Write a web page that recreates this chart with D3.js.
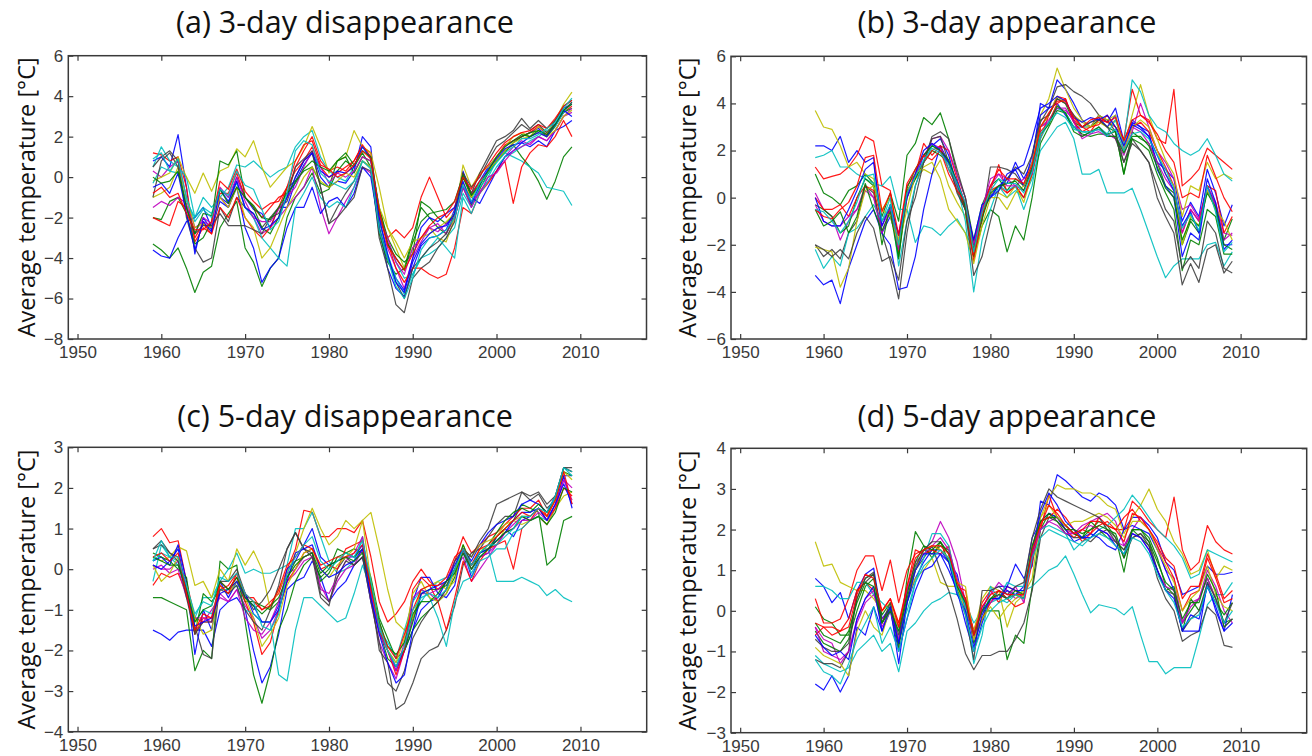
<!DOCTYPE html>
<html><head><meta charset="utf-8">
<script src="https://cdn.jsdelivr.net/npm/d3@7"></script>
<style>
body{margin:0;background:#fff;}
svg{display:block;}
.ttl{font-family:"Open Sans","Noto Sans",sans-serif;font-size:30.5px;fill:#111;}
.ylab{font-family:"Open Sans","Noto Sans",sans-serif;font-size:23.5px;fill:#111;}
</style></head><body>
<svg id="chart" width="1312" height="756"></svg>
<script>
const years = d3.range(1959, 2010);
const xTicks = [1950,1960,1970,1980,1990,2000,2010];
const yTicksA = [-8,-6,-4,-2,0,2,4,6];
const yTicksB = [-6,-4,-2,0,2,4,6];
const yTicksC = [-4,-3,-2,-1,0,1,2,3];
const yTicksD = [-3,-2,-1,0,1,2,3,4];
const titles = ["(a) 3-day disappearance","(b) 3-day appearance","(c) 5-day disappearance","(d) 5-day appearance"];
const yLabel = "Average temperature [°C]";
const lineColors = ["#0000ff","#008000","#ff0000","#00bfbf","#bf00bf","#bfbf00","#404040"];

const seriesA = [
[0.8,1.0,0.5,2.1,-0.5,-3.8,-2.0,-2.6,-1.0,-1.3, 0.0,-1.0,-1.6,-1.8,-2.5,-1.5,-1.5,-0.2,0.6,1.2, 0.0,-0.5,-0.2,-0.3,0.3,2.0,1.5,-2.5,-4.5,-5.5, -5.9,-4.5,-3.4,-3.0,-2.9,-2.6,-1.6,0.3,-0.9,-0.2, 0.5,1.0,1.5,1.8,2.0,2.2,2.4,2.0,2.8,3.4, 3.6],
[-3.3,-3.6,-4.0,-3.5,-4.5,-5.7,-4.7,-4.4,-2.5,-1.8, -1.2,-3.5,-4.2,-5.4,-4.5,-4.0,-2.0,-1.0,-0.5,0.2, -0.8,-0.6,0.3,0.8,0.5,1.2,0.5,-2.8,-4.2,-4.8, -4.5,-3.0,-1.5,-2.0,-2.5,-2.8,-2.0,-0.5,-1.4,-0.6, 0.2,0.8,1.3,1.6,1.0,0.5,-0.2,-1.1,-0.2,1.0, 1.5],
[1.2,1.1,0.8,1.0,-0.5,-3.2,-2.5,-2.8,-0.8,-0.8, 0.2,-1.0,-1.5,-2.0,-1.5,-1.0,-0.8,0.5,1.3,2.0, 0.8,0.3,0.5,0.3,0.8,1.5,1.2,-1.8,-3.0,-2.6, -3.0,-2.5,-1.0,0.0,-1.0,-2.0,-1.5,0.0,-0.8,-0.2, 0.3,1.0,1.6,1.8,2.0,2.2,2.5,2.1,2.6,3.2, 3.5],
[0.5,1.5,0.8,0.5,0.0,-2.0,-1.0,-1.5,-1.0,-0.5, 0.6,0.5,0.8,0.4,0.0,0.3,0.5,1.5,2.0,2.3, 1.0,0.3,0.0,-0.2,0.5,1.5,1.0,-1.5,-3.2,-4.2, -5.0,-4.8,-4.0,-3.8,-3.5,-3.0,-2.5,-0.8,-1.5,-0.5, 0.0,0.8,1.2,1.0,0.8,0.5,0.2,-0.5,-0.6,-0.7, -1.4],
[0.3,0.0,0.5,0.8,-1.0,-2.5,-2.2,-2.4,-1.0,-1.5, -0.2,-1.5,-2.0,-2.8,-2.5,-2.0,-1.5,-1.0,-0.5,0.5, -1.5,-2.8,-2.0,-1.2,-0.5,0.5,0.2,-2.2,-3.5,-4.5, -5.5,-4.0,-3.2,-2.5,-2.3,-2.8,-2.0,-0.5,-1.5,-0.7, -0.2,0.3,1.0,1.5,1.8,1.6,2.0,1.8,2.3,3.0, 3.2],
[-0.2,0.0,0.2,1.0,0.0,-0.8,0.2,-0.7,0.3,0.5, 1.4,1.0,1.8,0.5,-0.5,0.0,0.5,0.8,1.5,2.5, 1.5,0.2,0.8,1.0,2.3,1.5,1.2,-0.5,-2.5,-3.5, -4.5,-3.5,-3.0,-2.5,-3.0,-3.2,-2.0,0.6,-0.5,0.2, 0.5,1.0,1.5,2.0,2.2,2.0,2.5,2.2,2.8,3.6, 4.2],
[0.5,1.0,1.3,0.8,-2.0,-3.5,-4.2,-4.0,-1.5,-2.2, -1.0,-1.5,-1.8,-2.5,-2.0,-1.5,-1.2,0.0,0.8,1.2, -0.5,-2.3,-1.5,-0.8,-0.2,0.8,0.5,-3.0,-4.5,-6.3, -6.7,-5.0,-4.5,-4.2,-3.5,-3.0,-2.2,0.2,-0.8,0.2, 1.0,1.8,2.0,2.3,2.9,2.4,2.8,2.4,2.8,3.5, 3.8],
[-3.6,-3.9,-4.0,-3.0,-2.2,-2.0,-1.5,-2.5,-1.2,-1.5, -0.5,-2.5,-3.5,-5.2,-4.5,-4.0,-2.5,-1.5,-1.5,-0.5, -1.8,-1.2,-1.0,-1.5,-0.8,0.5,0.0,-2.5,-4.0,-5.0, -5.6,-4.0,-2.5,-2.0,-2.2,-1.8,-1.5,-0.5,-1.0,-1.3, -0.5,0.3,1.0,1.3,1.7,1.5,1.8,1.5,2.3,2.5, 2.8],
[-2.0,-2.1,-1.2,-1.0,-1.8,-3.3,-3.0,-2.2,0.8,0.6, 1.3,-1.0,-1.5,-2.5,-2.8,-2.0,-0.5,-0.2,0.3,0.5, -0.3,-0.5,0.8,1.0,0.2,1.0,0.8,-1.5,-3.0,-3.8, -4.2,-3.8,-1.2,-1.5,-2.0,-2.3,-1.8,0.0,-1.0,-0.3, 0.2,0.8,1.2,1.7,2.0,2.2,2.3,2.0,2.5,3.2, 3.4],
[-2.0,-2.2,-2.4,-1.2,-1.5,-3.0,-2.3,-2.8,-1.5,-2.0, -1.0,-2.0,-2.6,-3.0,-2.5,-1.5,-0.5,0.3,0.8,1.5, 0.5,0.0,0.2,0.5,0.8,1.6,1.0,-2.0,-3.2,-4.5, -5.2,-4.5,-4.5,-4.8,-5.0,-4.8,-3.5,-1.5,-1.8,-0.8, -0.3,0.3,0.8,-1.3,0.5,1.2,1.6,1.5,2.0,2.8, 2.0],
[-0.3,0.5,0.3,0.2,-1.2,-2.0,-1.5,-1.8,-0.6,-1.0, -0.3,-1.5,-2.0,-3.0,-3.5,-4.0,-4.4,-1.5,-0.8,0.0, -1.0,-1.5,-1.2,-1.5,-0.5,0.8,0.5,-2.2,-3.8,-5.0, -5.8,-4.8,-4.0,-3.5,-3.0,-3.5,-4.0,-1.0,-1.8,-0.8, -0.2,0.5,1.0,1.2,1.5,1.8,2.0,2.3,2.5,3.2, 3.7],
[-1.5,-1.2,-1.4,-1.0,-1.3,-2.8,-2.0,-2.3,-0.5,-1.0, 0.0,-1.2,-2.0,-2.2,-2.2,-1.6,-1.0,-0.5,0.5,1.3, 0.5,-0.3,0.2,0.0,0.3,1.0,0.8,-2.0,-3.0,-4.2, -4.8,-3.5,-3.0,-2.5,-2.7,-2.3,-2.0,-0.5,-1.2,-0.8, 0.0,0.2,0.8,1.3,1.5,1.7,2.0,1.8,2.3,3.0, 3.4],
[-1.0,-0.8,-0.5,0.5,-1.0,-2.5,-2.3,-2.5,-1.0,-1.5, -0.5,-2.0,-2.5,-4.0,-3.5,-2.5,-1.5,-0.8,0.0,0.5, -0.2,-0.5,-0.2,0.2,0.0,0.8,0.5,-1.5,-2.5,-3.2, -4.0,-3.2,-3.0,-2.8,-2.5,-2.2,-1.8,-0.3,-1.0,-0.3, 0.3,0.8,1.3,1.7,1.9,2.0,2.2,2.0,2.3,3.0, 3.3],
[-1.0,0.8,1.2,0.5,-1.5,-2.8,-2.4,-2.4,-1.8,-2.4, -2.4,-2.4,-2.6,-2.8,-2.0,-1.8,-1.0,0.5,0.9,1.3, -0.5,-2.3,-2.0,-1.5,-1.0,0.5,0.3,-2.5,-4.0,-5.2, -6.0,-4.5,-4.0,-3.5,-3.2,-2.8,-1.8,0.2,-0.5,0.0, 0.8,1.5,1.8,2.2,2.6,2.3,2.6,2.2,2.6,3.3, 3.7],
[-0.5,-0.3,-0.8,0.2,-1.8,-3.6,-2.2,-2.7,-0.6,-1.2, -0.2,-1.5,-1.8,-2.6,-2.4,-2.0,-1.0,0.0,0.8,1.2, 0.3,0.0,0.3,0.2,0.5,1.5,0.9,-2.0,-3.8,-5.2, -5.7,-4.2,-3.3,-2.8,-2.5,-2.4,-1.8,-0.2,-1.3,-0.4, 0.4,0.9,1.4,1.6,1.7,2.0,2.2,2.0,2.6,3.3, 3.0],
[0.0,-0.3,-0.2,0.3,-1.5,-2.8,-1.8,-1.9,-0.6,-1.3, -0.5,-1.0,-1.4,-2.0,-2.1,-1.5,-0.8,-0.3,0.4,0.8, 0.5,0.3,0.8,1.2,0.6,1.3,1.0,-1.7,-3.3,-4.0, -4.6,-3.2,-2.2,-1.8,-1.7,-1.6,-1.2,0.1,-0.9,-0.4, 0.3,1.0,1.5,1.8,2.1,2.0,2.3,2.1,2.6,3.3, 3.6],
[-0.8,-0.5,-1.0,-0.8,-1.8,-2.6,-2.6,-2.2,-0.2,-0.6, 0.4,-0.7,-1.2,-1.6,-1.3,-1.2,-0.5,0.8,1.6,1.8, 0.6,0.4,0.0,0.2,0.6,1.3,0.9,-1.6,-3.4,-4.0, -4.6,-3.8,-3.0,-2.4,-2.0,-1.8,-1.2,0.0,-0.6,0.1, 0.6,1.2,1.7,2.0,2.2,2.3,2.6,2.4,2.9,3.5, 3.8],
[0.9,1.2,0.3,0.9,-1.0,-2.2,-1.6,-2.0,-0.6,-0.9, 0.3,-0.4,-0.6,-1.6,-2.6,-2.2,-0.8,1.3,1.8,1.6, 0.2,-0.2,-0.4,-0.6,-0.2,0.8,0.4,-2.6,-4.0,-5.4, -6.0,-5.0,-3.6,-3.0,-2.9,-2.6,-2.0,-0.4,-1.2,-0.3, 0.2,0.7,1.2,1.5,1.9,1.9,2.1,2.4,2.7,3.4, 3.9]
];

const seriesB = [
[2.2,2.2,2.0,2.6,1.5,2.0,1.5,1.7,-1.5,-0.8, -2.0,0.3,0.8,1.8,2.2,2.5,1.8,0.5,-0.5,-2.5, -0.5,0.1,0.5,0.6,1.5,0.8,1.5,4.0,3.8,5.0, 4.6,4.0,3.3,3.0,3.5,3.2,3.8,2.4,3.3,3.0, 2.6,1.5,1.2,0.8,-1.0,-0.2,-0.8,1.2,0.2,-1.2, -0.3],
[1.0,0.2,0.0,-0.3,0.3,0.5,1.0,0.6,-0.8,0.2, -1.0,1.8,2.3,3.4,3.1,3.6,2.5,1.0,0.0,-1.8, -0.3,0.5,0.8,0.3,0.8,0.5,1.2,3.0,3.5,4.2, 4.0,3.2,3.0,3.0,3.3,3.0,2.8,1.0,2.8,2.5, 2.3,1.5,0.5,0.2,-2.0,-1.0,-1.5,0.5,-0.3,-1.8, -0.9],
[1.3,0.8,0.9,1.0,1.3,1.8,2.6,2.4,0.5,0.3, -2.3,0.2,1.0,2.3,1.8,2.2,2.0,0.8,-0.3,-2.0, -0.5,0.3,1.4,0.2,0.5,0.0,1.0,2.5,3.5,4.3, 4.2,3.3,3.0,2.8,3.3,3.2,3.0,2.5,4.6,3.5, 3.3,2.5,2.3,4.6,0.5,0.8,1.2,2.1,1.8,1.5, 1.2],
[1.7,1.8,2.0,1.3,1.3,1.0,0.8,0.6,0.5,0.9, -0.5,-0.5,-1.9,-1.2,-1.3,-1.6,-1.2,-0.9,-1.5,-2.2, -0.5,0.0,0.5,0.0,0.3,0.0,0.8,2.0,2.5,3.0, 3.2,2.5,1.0,1.0,1.2,0.2,0.2,0.2,0.4,-0.5, -1.5,-2.5,-3.4,-2.9,-2.6,-2.6,-2.6,-2.0,-1.9,-2.9, -2.3],
[0.2,-0.5,-0.8,-1.8,-1.0,-0.5,0.5,0.0,-1.2,-0.5, -1.5,0.2,0.8,1.5,2.5,2.6,2.0,1.0,0.0,-2.3, -0.5,0.5,1.0,0.8,0.5,0.3,1.2,3.0,3.3,3.8, 3.7,3.3,2.6,2.8,2.9,2.7,2.5,1.8,2.8,4.0, 3.0,2.0,1.5,0.8,-0.5,-0.3,-0.9,0.5,-0.2,-1.5, -1.6],
[3.7,3.0,2.9,2.2,1.3,1.5,1.0,0.8,-0.5,0.0, -1.8,0.3,0.8,1.2,1.0,1.6,0.5,-0.2,-0.8,-2.5, -0.8,0.2,0.2,0.0,0.5,-0.2,1.0,3.5,4.2,5.5, 4.6,3.8,3.3,3.0,3.2,3.0,3.3,2.2,3.5,4.8, 3.5,2.5,1.6,1.0,-0.8,0.5,0.3,1.5,0.8,1.0, 0.8],
[-2.0,-2.5,-2.2,-2.6,-1.5,-1.0,0.5,0.2,-1.5,-2.7, -4.3,-1.5,0.5,1.5,2.6,2.8,2.5,1.2,0.0,-2.0, -1.0,1.3,1.3,1.2,1.0,0.5,1.3,3.2,3.8,4.7, 4.8,4.5,4.3,4.0,3.5,3.3,2.8,1.5,2.5,2.0, 1.5,0.0,-0.8,-1.5,-3.7,-2.8,-3.6,-2.2,-2.0,-3.2, -2.7],
[-3.3,-3.7,-3.5,-4.5,-3.0,-2.0,-1.0,-0.5,-1.5,-2.0, -3.9,-3.8,-2.5,-0.5,1.0,2.2,1.5,0.5,-0.5,-2.3, -0.5,0.0,0.5,0.8,1.2,0.5,1.8,3.5,3.8,4.0, 3.5,3.0,3.0,3.2,3.4,3.0,3.5,2.0,3.2,3.0, 2.8,1.2,0.5,0.0,-2.5,-1.5,-1.8,0.5,-0.5,-2.2, -1.8],
[-0.3,-0.5,-0.8,-1.5,-1.2,0.0,0.8,0.5,-2.0,-0.3, -2.5,0.0,0.8,1.5,2.0,1.8,1.5,0.3,-0.5,-2.5, -1.2,-0.5,-0.8,-2.3,-1.2,-1.8,0.0,2.3,3.0,3.7, 3.6,3.0,2.7,2.6,2.7,2.7,2.8,1.0,2.5,2.3, 2.0,1.0,0.2,-0.5,-3.1,-1.8,-2.0,-0.5,-0.8,-2.4, -2.4],
[0.0,-0.5,-0.5,-0.3,-0.8,0.0,0.5,0.3,-1.0,-0.5, -2.0,0.5,1.0,1.5,2.0,2.2,1.2,0.5,-0.5,-2.7, -0.8,0.3,0.5,0.2,0.5,0.0,1.0,2.8,3.2,4.0, 4.2,3.2,2.8,3.0,3.1,3.5,3.0,2.5,3.0,3.2, 2.8,2.0,1.3,0.5,-1.5,-0.5,-1.0,0.5,0.3,-1.5, -0.8],
[-2.2,-3.0,-2.5,-2.9,-1.5,-1.3,-0.8,-0.3,-1.0,0.0, -2.9,-1.0,0.5,1.5,2.2,2.0,1.2,0.5,-1.0,-4.0, -1.8,-0.5,0.5,0.3,0.5,-0.5,0.5,2.5,3.2,3.8, 3.6,3.0,2.8,2.7,3.0,2.7,3.3,2.3,5.0,4.5, 3.5,3.0,2.8,2.3,2.0,1.8,2.0,2.5,1.8,1.0, 0.7],
[-0.3,-1.0,-1.2,-1.2,-0.8,-0.5,0.3,0.0,-1.5,-0.5, -2.2,0.0,1.0,1.8,2.3,2.1,1.5,0.5,-0.3,-2.0, -0.5,0.8,1.0,0.5,0.5,0.8,1.0,3.0,3.2,3.8, 3.8,3.2,2.5,2.7,2.8,2.6,2.6,2.0,3.0,2.8, 2.3,1.5,0.8,0.3,-1.5,-0.5,-1.0,0.3,-0.3,-1.8, -1.5],
[-2.1,-2.2,-2.3,-3.8,-3.0,-1.0,0.3,0.5,-0.5,-0.8, -2.0,-0.5,1.0,1.3,1.5,0.8,-0.5,-1.0,-1.5,-2.8, -1.2,0.0,0.0,-0.5,0.2,0.5,1.5,3.0,3.5,4.3, 4.0,3.5,3.2,3.0,3.5,3.3,3.5,2.0,3.0,3.3, 3.0,2.0,1.0,0.5,-2.0,-0.8,-1.2,0.3,-0.5,-1.0, -1.8],
[-2.0,-2.2,-2.5,-2.2,-2.6,-1.5,-0.8,-1.3,-2.7,-2.5, -3.5,-1.0,0.0,1.5,2.5,2.6,1.5,0.2,-0.5,-3.3, -2.5,-1.0,0.3,0.8,1.3,1.0,1.8,3.3,3.5,4.2, 4.0,3.5,3.0,3.2,3.3,3.0,2.5,1.5,2.3,2.0, 1.5,0.5,-0.5,-1.0,-3.0,-2.5,-3.0,-1.0,-1.5,-3.0, -3.2],
[0.0,-1.0,-1.2,-1.2,-0.5,0.3,1.2,1.5,-1.2,-0.3, -1.6,0.0,1.0,2.0,2.3,2.0,1.5,0.7,-0.3,-1.8, -0.3,0.0,0.3,1.0,1.2,1.4,2.5,3.8,4.0,4.3, 4.1,3.4,3.2,3.4,3.3,3.5,3.0,2.2,3.1,2.9, 2.6,1.8,1.0,0.3,-1.2,-0.6,-1.5,0.8,-0.2,-2.0, -2.0],
[-0.5,-1.2,-1.0,-0.6,-1.5,-0.8,0.6,-0.5,-1.4,-0.6, -2.6,0.4,1.2,1.8,2.2,2.0,1.6,0.6,-0.4,-2.2, -0.9,0.2,0.5,0.6,0.7,0.3,1.2,2.7,3.1,3.9, 3.6,2.8,2.6,2.8,3.0,2.6,2.6,1.9,2.6,2.6, 2.2,1.3,0.4,0.0,-1.8,-0.9,-1.2,0.2,-0.4,-2.0, -2.2],
[-0.5,-0.8,-0.9,-0.5,-0.2,0.5,1.7,1.8,-0.6,0.2, -1.6,0.6,1.2,1.8,1.6,2.0,1.0,0.3,-0.2,-2.4, -0.6,0.5,1.2,0.8,0.8,0.6,1.4,3.0,3.6,4.1, 4.1,3.4,3.0,3.3,3.4,3.2,3.4,2.4,3.3,3.5, 3.2,2.7,2.0,1.5,0.0,0.2,0.0,1.8,0.9,0.0, -0.6],
[-0.5,-0.6,-1.0,-1.5,-1.0,-0.2,0.9,1.0,-1.0,-0.3, -2.0,0.2,0.9,1.6,2.1,1.9,1.4,0.6,-0.2,-2.3, -0.6,0.3,0.8,0.6,0.6,0.2,1.1,2.7,3.2,3.6, 3.4,2.9,2.8,2.8,2.9,2.6,2.9,2.0,2.7,2.8, 2.5,1.8,1.2,0.4,-1.3,-0.7,-1.4,0.5,-0.6,-2.3, -1.9]
];

const seriesC = [
[-1.5,-1.6,-1.75,-1.55,-1.5,-1.5,-1.5,-1.9,-1.0,-0.8, -0.7,-1.0,-2.0,-2.8,-2.4,-1.6,-0.5,-0.3,-0.2,0.2, -0.2,-0.8,-0.5,-0.3,0.1,0.3,-0.8,-1.5,-2.0,-2.5, -2.0,-1.5,-1.0,-0.8,-0.7,-0.3,-0.1,0.5,-0.2,0.3, 0.4,0.8,1.0,0.8,1.2,1.3,1.5,1.2,1.6,2.3, 1.5],
[-0.7,-0.7,-0.8,-0.9,-1.0,-2.5,-2.0,-2.2,0.2,0.0, 0.1,-1.3,-2.6,-3.3,-2.5,-1.5,-1.0,-0.3,0.1,0.3, -0.2,0.0,0.5,0.4,0.5,0.4,-0.3,-1.5,-2.2,-2.4, -2.0,-1.5,-1.2,-1.0,-0.8,-0.6,-0.2,0.5,0.0,0.4, 0.5,0.8,1.0,1.2,1.6,1.5,1.4,0.1,0.3,1.2, 1.3],
[0.8,1.0,0.65,0.7,-0.3,-1.2,-1.3,-1.3,-0.5,-0.4, -0.1,-0.7,-0.7,-1.0,-0.8,-0.6,0.0,0.5,1.45,1.4, 0.8,0.8,1.0,1.0,0.9,1.2,0.3,-0.8,-1.3,-1.1, -0.8,-0.3,0.0,-0.3,-0.5,-0.3,0.2,0.8,0.4,0.6, 0.8,0.9,1.1,1.3,1.5,1.5,1.7,1.3,1.8,2.5, 2.4],
[-0.3,0.6,0.3,0.2,-0.4,-1.2,-0.7,-0.7,-0.3,0.0, 0.4,-0.1,0.0,-0.1,-0.1,0.0,0.1,1.0,1.0,1.4, 0.8,0.2,-0.1,0.0,0.2,0.8,-0.5,-1.5,-2.0,-2.3, -2.0,-1.2,-0.8,-0.5,-0.3,-0.2,0.0,0.4,-0.1,0.3, 0.5,-0.3,-0.3,-0.3,-0.2,-0.3,-0.4,-0.65,-0.5,-0.7, -0.8],
[0.1,0.0,0.0,0.2,-0.6,-1.5,-1.3,-1.0,-0.7,-0.8, -0.5,-0.9,-1.2,-1.7,-1.5,-1.0,-0.3,-0.1,0.2,0.3, -0.4,-0.8,-0.3,0.0,0.1,0.5,-0.8,-1.8,-2.3,-2.7, -2.0,-1.2,-0.6,-0.6,-0.8,-0.5,0.0,0.3,-0.3,0.0, 0.3,0.6,0.9,1.0,1.2,1.2,1.3,1.1,1.5,2.2, 1.7],
[0.3,0.2,0.3,0.55,0.45,-0.4,-0.3,-0.7,0.0,-0.3, 0.5,0.1,0.45,0.0,-1.0,-0.5,-0.1,0.4,1.0,1.5, 1.0,0.6,0.8,1.2,1.0,1.2,1.4,0.5,-0.5,-1.3, -1.5,-1.2,-0.5,-0.4,-0.3,-0.5,-0.3,0.6,0.1,0.5, 0.5,0.6,1.0,1.2,1.1,1.2,1.3,1.1,1.5,1.8, 1.9],
[0.5,0.7,0.4,0.3,-0.5,-1.4,-2.1,-2.2,-0.3,-0.3, 0.0,-0.6,-1.0,-0.8,-0.5,0.0,0.5,0.9,0.5,0.3, -0.7,-0.9,0.0,0.3,0.1,0.3,-0.6,-2.0,-2.3,-3.45, -3.3,-2.8,-2.2,-2.0,-1.9,-1.5,-0.9,0.1,0.4,0.5, 0.8,1.1,1.3,1.3,1.9,1.7,1.85,1.5,1.7,2.5, 2.4],
[0.2,0.3,0.1,0.6,-0.3,-2.1,-1.0,-1.5,-0.3,-0.7, -0.3,-0.6,-1.1,-1.3,-1.3,-0.9,0.0,0.2,0.6,1.0, 0.3,0.1,0.2,0.3,0.3,0.6,-0.5,-1.3,-2.0,-2.4, -2.0,-0.8,-0.2,-0.2,-0.6,-0.7,-0.4,0.5,0.2,0.6, 0.9,1.1,1.2,1.3,1.6,1.7,1.6,1.4,1.8,2.3, 2.3],
[0.4,0.3,0.2,0.0,-0.2,-1.6,-0.6,-0.8,-0.5,-0.5, -0.3,-0.8,-0.8,-0.9,-1.0,-0.8,-0.2,0.2,0.3,0.4, -0.3,-0.1,0.3,0.4,0.3,0.5,-0.2,-1.2,-1.7,-2.2, -2.0,-1.3,-0.6,-0.5,-0.5,-0.4,0.0,0.6,0.1,0.4, 0.6,0.9,1.2,1.4,1.5,1.4,1.6,1.4,1.7,2.4, 2.3],
[-0.4,-0.1,-0.2,-0.1,-0.6,-1.6,-1.2,-1.2,-0.3,-0.5, -0.2,-0.8,-1.3,-2.1,-1.8,-1.0,-0.3,0.0,0.4,0.5, 0.0,0.1,0.0,0.5,0.6,0.7,-0.4,-1.5,-2.0,-2.6, -2.0,-0.5,-0.2,-0.4,-0.8,-1.5,-0.7,0.2,-0.3,0.2, 0.5,0.6,0.7,0.0,1.0,1.2,1.5,1.2,1.5,2.0, 1.8],
[0.2,0.4,0.3,0.1,-0.5,-1.3,-1.0,-1.1,-0.5,-0.5, -0.4,-1.0,-1.1,-1.3,-1.3,-2.6,-2.75,-1.5,-0.7,-0.7, -0.9,-1.1,-1.3,-1.2,-0.6,0.1,-0.5,-1.5,-1.8,-2.2, -1.5,-0.8,-0.5,-0.7,-1.2,-1.9,-0.8,-0.3,-0.2,0.2, 0.3,0.5,0.5,0.9,1.0,1.2,1.3,1.2,1.8,2.5, 2.4],
[0.0,0.1,-0.1,0.0,-0.7,-1.2,-1.2,-1.3,-0.6,-0.8, -0.5,-1.2,-1.5,-1.6,-1.3,-0.8,-0.1,0.0,0.3,0.4, -0.5,-0.6,-0.2,0.2,0.4,0.8,-0.6,-1.6,-2.0,-2.5, -1.8,-0.7,-0.5,-0.6,-0.5,-0.3,0.2,0.4,0.0,0.3, 0.4,0.6,0.9,1.1,1.3,1.2,1.4,1.2,1.6,2.2, 2.0],
[0.1,-0.3,-0.1,0.3,-0.4,-1.2,-1.6,-1.5,-0.4,-0.6, -0.3,-0.7,-1.2,-1.9,-1.6,-1.2,-0.4,0.0,0.4,0.5, 0.0,-0.2,0.1,0.3,0.5,1.2,-0.3,-1.3,-2.0,-2.3, -1.7,-0.6,-0.3,-0.7,-0.8,-0.6,-0.1,0.5,0.3,0.6, 0.7,0.8,1.1,1.2,1.3,1.3,1.5,1.3,1.7,2.4, 2.2],
[0.5,0.6,0.4,0.2,-0.7,-1.6,-1.3,-1.3,-0.5,-0.6, -0.4,-1.0,-1.3,-1.5,-1.0,-0.4,0.5,0.9,0.5,0.4, -0.6,-0.8,-0.2,0.2,0.1,0.3,-0.8,-1.8,-2.8,-3.0, -2.5,-1.7,-1.3,-1.0,-0.8,-0.5,0.2,0.5,0.3,0.7, 1.0,1.6,1.7,1.8,1.9,1.8,1.9,1.6,1.8,2.5, 2.5],
[0.1,0.0,0.2,0.5,-0.5,-1.4,-1.3,-1.2,-0.6,-0.5, -0.3,-0.7,-0.9,-1.3,-1.3,-1.0,-0.3,0.4,0.5,0.6, 0.0,-0.2,-0.1,0.1,0.2,0.5,-0.7,-1.6,-2.3,-2.8, -2.6,-1.5,-0.6,-0.5,-0.4,-0.3,0.1,0.5,0.1,0.4, 0.5,0.7,0.9,1.2,1.4,1.4,1.5,1.2,1.6,2.1, 1.6],
[0.3,0.2,0.1,0.1,-0.5,-1.3,-1.0,-0.9,-0.3,-0.5, -0.2,-0.7,-0.9,-1.1,-0.9,-0.7,-0.2,0.1,0.3,0.4, -0.1,0.1,0.2,0.3,0.2,0.4,-0.4,-1.3,-1.9,-2.1, -1.8,-1.1,-0.8,-0.8,-0.6,-0.3,-0.1,0.4,0.0,0.3, 0.5,0.7,0.9,1.0,1.3,1.2,1.3,1.1,1.4,2.0, 1.9],
[0.3,0.4,0.2,0.4,-0.6,-1.5,-1.1,-1.2,-0.4,-0.6, -0.1,-0.6,-0.8,-1.0,-0.9,-0.5,0.1,0.3,0.6,0.5, 0.1,0.2,0.3,0.3,0.4,0.6,-0.5,-1.4,-1.9,-2.2, -1.6,-1.0,-0.5,-0.4,-0.4,-0.2,0.3,0.5,0.1,0.5, 0.6,0.8,1.0,1.2,1.4,1.3,1.5,1.3,1.7,2.4, 1.6],
[0.2,0.7,0.3,0.3,-0.4,-1.1,-0.8,-0.9,-0.2,-0.3, -0.1,-0.6,-0.8,-1.4,-1.5,-1.1,-0.1,0.3,0.6,0.8, 0.2,0.0,0.2,0.4,0.3,0.7,-0.3,-1.4,-2.0,-2.4, -1.9,-1.0,-0.7,-0.6,-0.7,-0.5,0.0,0.5,0.1,0.4, 0.6,0.6,0.8,1.0,1.3,1.3,1.5,1.4,1.8,2.5, 2.3]
];

const seriesD = [
[0.8,0.6,0.2,0.45,-0.2,0.5,0.9,1.05,-0.2,0.1, -1.3,0.2,0.8,1.2,1.5,1.5,1.2,0.9,0.0,-0.6, 0.0,0.5,0.6,0.6,1.15,0.8,1.1,2.7,2.6,3.35, 3.2,3.0,2.8,2.7,2.9,2.8,2.6,2.0,2.3,2.3, 2.1,1.8,1.2,1.0,0.4,0.5,0.6,1.1,0.9,0.9, 0.95],
[0.1,-0.2,-0.3,-0.6,-0.6,0.3,0.8,0.9,-0.1,0.2, -0.8,0.8,1.95,1.6,1.3,1.7,1.2,0.5,0.2,-0.5, 0.0,0.0,0.0,-1.2,-0.6,-0.8,0.6,2.0,2.4,2.3, 2.1,1.9,1.8,2.0,2.2,2.1,1.8,0.95,2.0,1.8, 1.6,1.0,0.5,0.6,-0.3,0.0,0.3,0.8,0.3,-0.3, -0.2],
[0.3,-0.3,-0.3,-0.2,0.3,1.0,1.35,1.35,0.5,1.25, 0.2,1.0,1.4,1.5,1.6,1.5,1.3,0.6,0.3,-0.5, 0.2,0.5,0.2,0.6,0.5,0.3,1.4,2.0,2.85,2.3, 2.0,1.8,2.0,1.9,2.3,2.1,2.0,2.0,2.7,2.5, 2.2,2.0,1.8,2.8,1.5,1.0,1.2,2.1,1.7,1.5, 1.4],
[-1.1,-1.3,-1.4,-1.5,-1.4,-1.0,-0.8,-0.6,-1.0,-0.8, -1.5,-0.5,-0.3,0.0,0.2,0.3,0.45,0.4,0.2,-0.3, 0.0,0.2,0.3,0.2,0.4,0.5,0.6,0.8,1.0,1.1, 1.35,0.9,0.4,-0.05,0.15,0.1,0.05,-0.1,0.1,-0.6, -1.25,-1.25,-1.55,-1.4,-1.4,-1.4,-0.65,0.15,0.4,0.4, 0.7],
[-0.4,-0.7,-0.8,-1.3,-1.0,-0.3,0.2,0.4,-0.2,0.0, -0.4,0.5,1.0,1.5,1.7,2.2,1.8,1.2,0.2,-0.6, 0.1,0.4,0.7,0.5,0.3,0.4,1.3,2.0,2.2,2.3, 2.0,1.9,2.1,2.2,2.3,2.4,2.2,1.6,2.0,2.3, 2.0,1.6,1.0,0.8,-0.3,0.2,0.3,1.0,0.6,0.0, -0.3],
[1.7,1.1,1.15,0.7,0.6,0.5,0.5,0.3,0.0,0.2, -0.3,0.3,0.8,1.0,1.3,0.7,0.6,0.6,0.0,-0.5, 0.3,0.6,0.5,-0.4,0.2,0.4,0.8,2.3,2.8,3.1, 3.0,3.0,2.9,2.9,2.8,2.6,2.5,1.9,2.3,2.6, 3.0,2.5,2.2,1.7,1.4,0.9,1.0,1.5,0.8,1.1, 1.0],
[-1.2,-1.3,-1.3,-1.4,-1.0,0.5,0.7,0.9,-0.3,0.2, -0.8,0.5,1.0,1.3,1.6,1.0,0.5,-0.2,-1.05,-1.45, -1.1,-1.1,-1.0,-1.0,-0.7,-0.3,0.5,1.8,2.3,2.2, 1.9,1.8,1.8,1.7,1.9,2.0,1.8,1.3,1.8,1.9, 1.6,0.8,0.3,0.0,-0.75,-0.6,-0.5,0.1,-0.1,-0.85, -0.9],
[-1.8,-1.95,-1.6,-2.0,-1.6,-0.4,-0.6,0.1,-0.5,0.0, -1.0,-0.2,0.5,1.0,1.1,1.4,1.0,0.5,-0.3,-1.0, -0.3,0.3,0.3,0.5,0.4,0.6,1.8,2.2,2.4,2.3, 2.0,1.7,1.8,1.9,1.8,1.6,1.5,2.0,2.1,2.0, 1.9,1.5,1.0,0.5,-0.5,-0.5,-0.5,0.7,0.0,-0.5, 0.4],
[-0.5,-0.8,-0.9,-1.0,-0.7,0.0,0.6,0.8,-0.3,0.1, -0.9,0.2,1.0,1.5,1.4,1.6,1.5,0.6,0.3,-0.8, -0.2,0.3,0.5,0.3,0.4,0.3,1.4,2.2,2.3,2.3, 2.1,1.9,1.8,2.2,2.0,1.8,1.7,1.5,2.0,2.0, 1.8,1.3,0.6,0.4,-0.5,0.3,0.0,0.6,0.2,-0.1, 0.2],
[-0.6,-0.4,-0.4,-0.5,-0.2,0.5,0.7,0.5,0.0,0.3, -0.3,0.6,1.5,1.4,1.5,1.4,1.6,0.6,0.5,-0.6, -0.2,0.2,0.5,0.3,0.1,0.2,1.2,2.2,2.3,2.5, 2.3,2.0,1.7,1.9,2.1,2.2,2.0,2.3,2.5,2.2, 2.0,1.6,1.2,0.8,0.0,0.4,0.5,1.3,0.8,0.2, 0.3],
[0.6,0.6,0.5,0.3,0.3,0.7,0.7,0.4,0.2,0.0, -0.5,0.0,0.7,1.3,1.9,1.9,1.6,0.7,0.1,-1.3, -0.6,0.6,0.3,0.7,0.6,0.6,1.6,2.0,2.1,2.0, 1.9,1.5,1.7,1.8,2.0,2.1,2.3,2.5,2.85,2.6, 2.3,2.0,1.8,1.6,1.3,0.8,0.9,1.5,1.4,1.3, 1.2],
[-0.4,-1.0,-1.1,-1.2,-1.0,-0.2,0.3,0.5,-0.4,0.0, -0.7,0.5,1.2,1.4,1.6,1.8,1.5,0.8,0.2,-0.7, 0.0,0.2,0.4,0.3,0.6,0.2,1.4,2.0,2.2,2.1, 1.9,1.9,2.0,2.1,2.0,1.9,1.7,1.6,1.9,1.8, 1.5,1.0,0.6,0.5,-0.3,0.1,0.3,0.8,0.3,-0.4, -0.2],
[-0.9,-1.1,-1.2,-1.3,-1.6,-0.5,0.0,-0.4,-0.6,0.1, -0.4,0.3,1.0,1.5,1.6,1.5,1.3,0.7,0.6,-0.7, -0.2,0.1,-0.2,0.1,0.3,0.5,1.6,2.3,2.6,2.3, 2.1,2.2,2.2,2.3,2.4,2.3,2.1,1.8,2.2,2.2, 2.0,1.5,1.1,0.7,0.0,0.3,0.5,1.1,0.4,0.1, 0.0],
[-0.7,-0.9,-1.0,-1.0,-0.8,0.3,0.8,0.95,-0.3,0.1, -0.6,0.3,1.1,1.5,1.7,1.7,1.4,0.5,-0.1,-1.2, 0.5,0.5,0.6,0.4,0.6,0.7,1.8,2.5,3.0,2.8, 2.7,2.6,2.5,2.4,2.3,2.0,1.7,1.5,1.8,1.9, 1.7,1.0,0.5,0.4,-0.5,-0.2,0.0,0.7,0.3,-0.3, 0.2],
[-0.6,-0.9,-1.1,-1.0,-1.2,-0.2,0.3,0.6,-0.5,0.1, -0.8,0.2,1.0,1.4,1.4,1.4,1.2,0.4,0.0,-0.9, -0.1,0.3,0.3,0.6,0.5,0.5,1.5,2.4,2.9,2.6, 2.2,2.0,1.8,1.8,2.0,1.9,1.6,1.4,1.9,1.8, 1.5,1.0,0.5,0.3,-0.5,-0.1,-0.2,0.6,0.1,-0.5, -0.3],
[-0.3,-0.6,-0.7,-0.8,-0.5,0.2,0.7,0.6,-0.3,0.0, -0.5,0.4,1.2,1.6,1.5,1.7,1.4,0.6,0.2,-0.6, 0.0,0.3,0.4,0.3,0.5,0.4,1.6,2.2,2.4,2.2, 2.0,2.0,1.9,2.0,2.1,2.0,1.9,1.3,2.0,2.0, 1.7,1.2,0.7,0.5,-0.2,0.2,0.2,0.9,0.5,-0.4, -0.2],
[-0.3,-0.4,-0.6,-0.5,-0.4,0.4,0.9,0.8,0.0,0.3, -0.4,0.6,1.3,1.5,1.6,1.6,1.4,0.7,0.3,-0.6, 0.1,0.4,0.5,0.4,0.4,0.4,1.5,2.1,2.6,2.4, 2.1,1.9,2.0,2.2,2.2,2.1,2.0,1.7,2.4,2.3, 2.0,1.7,1.3,1.1,0.3,0.6,0.6,1.4,0.9,0.3, 0.5],
[-1.2,-1.5,-1.6,-1.8,-1.3,-0.7,-0.3,0.1,-0.8,-0.4, -1.0,-0.2,0.7,1.1,1.3,1.5,1.3,0.5,-0.1,-1.0, -0.4,0.0,0.2,0.3,0.4,0.3,1.3,1.8,2.0,1.9, 1.8,1.7,1.6,1.8,1.9,1.8,1.6,1.4,1.8,1.7, 1.4,0.9,0.5,0.2,-0.4,-0.2,-0.1,0.6,0.2,-0.3, 0.0]
];

const panels = [
  {title: titles[0], series: seriesA, ticks: yTicksA, box:{l:68.3, r:646.5, t:55.7, b:339}, tx:345, ty:33, lx:27},
  {title: titles[1], series: seriesB, ticks: yTicksB, box:{l:731, r:1306.5, t:56.3, b:339}, tx:1007, ty:33, lx:688},
  {title: titles[2], series: seriesC, ticks: yTicksC, box:{l:68.3, r:646.7, t:447.3, b:731.7}, tx:345, ty:427, lx:27},
  {title: titles[3], series: seriesD, ticks: yTicksD, box:{l:731, r:1306.7, t:448.3, b:732.7}, tx:1007, ty:427, lx:688}
];

const svg = d3.select("#chart");
const frameColor = "#3a3a3a";
const tickFont = '"Liberation Sans", Arial, sans-serif';

panels.forEach(p => {
  const b = p.box;
  const x = d3.scaleLinear().domain([1948.9, 2017.9]).range([b.l, b.r]);
  const y = d3.scaleLinear().domain([p.ticks[0], p.ticks[p.ticks.length - 1]]).range([b.b, b.t]);
  const g = svg.append("g");

  const line = d3.line().x((d, i) => x(years[i])).y(d => y(d));
  g.append("g").selectAll("path").data(p.series).join("path")
    .attr("fill", "none")
    .attr("stroke", (d, i) => lineColors[i % lineColors.length])
    .attr("stroke-width", 1.2)
    .attr("stroke-opacity", 0.9)
    .attr("stroke-linejoin", "round")
    .attr("d", line);

  const styleAxis = sel => {
    sel.select(".domain").remove();
    sel.attr("font-size", 17).attr("font-family", tickFont);
    sel.selectAll(".tick line").attr("stroke", frameColor).attr("stroke-width", 1.2);
    sel.selectAll(".tick text").attr("fill", "#3a3a3a")
      .style("font-size", "17px").style("font-family", tickFont);
  };

  g.append("g").attr("transform", `translate(0,${b.b})`)
    .call(d3.axisBottom(x).tickValues(xTicks).tickFormat(d3.format("d")).tickSizeInner(-5).tickSizeOuter(0).tickPadding(7))
    .call(styleAxis);
  g.append("g").attr("transform", `translate(0,${b.t})`)
    .call(d3.axisTop(x).tickValues(xTicks).tickFormat("").tickSizeInner(-5).tickSizeOuter(0))
    .call(styleAxis);
  g.append("g").attr("transform", `translate(${b.l},0)`)
    .call(d3.axisLeft(y).tickValues(p.ticks).tickFormat(d3.format("d")).tickSizeInner(-5).tickSizeOuter(0).tickPadding(5))
    .call(styleAxis);
  g.append("g").attr("transform", `translate(${b.r},0)`)
    .call(d3.axisRight(y).tickValues(p.ticks).tickFormat("").tickSizeInner(-5).tickSizeOuter(0))
    .call(styleAxis);

  g.append("rect").attr("x", b.l).attr("y", b.t).attr("width", b.r - b.l).attr("height", b.b - b.t)
    .attr("fill", "none").attr("stroke", frameColor).attr("stroke-width", 1.5);

  svg.append("text").attr("class", "ttl").attr("x", p.tx).attr("y", p.ty)
    .attr("text-anchor", "middle").text(p.title);
  svg.append("text").attr("class", "ylab")
    .attr("transform", `translate(${p.lx},${(b.t + b.b) / 2}) rotate(-90)`)
    .attr("text-anchor", "middle").attr("dy", "0.35em").text(yLabel);
});
</script>
</body></html>
